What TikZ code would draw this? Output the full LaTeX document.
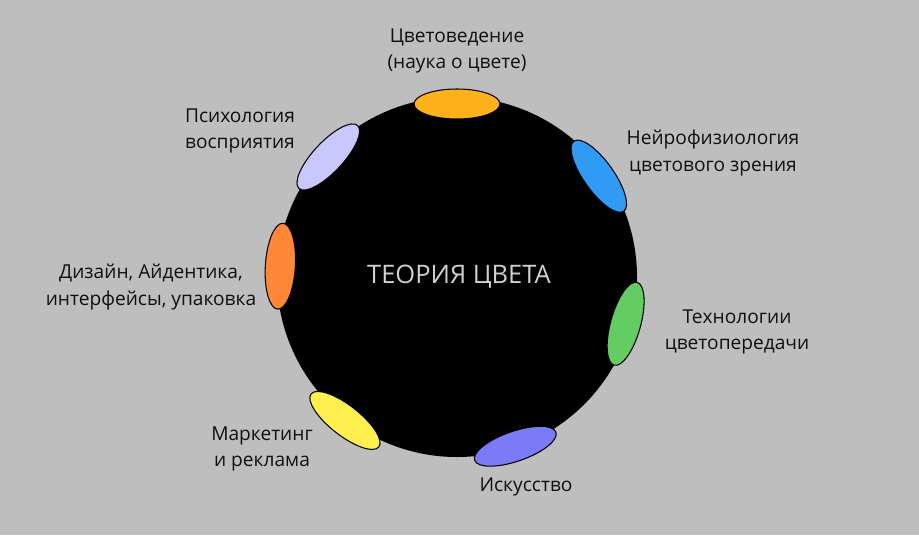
\documentclass[tikz,border=0pt]{standalone}
\usepackage{fontspec}
\setmainfont{Open Sans}
\usepackage{tikz}
\definecolor{paper}{HTML}{BEBEBE}
\definecolor{ink}{HTML}{101010}
\definecolor{haze}{HTML}{D0D0D0}
\definecolor{amber}{HTML}{FDB21B}
\definecolor{sky}{HTML}{2F9BF5}
\definecolor{leaf}{HTML}{63CC63}
\definecolor{violet}{HTML}{7B7BF7}
\definecolor{lemon}{HTML}{FFF050}
\definecolor{tangerine}{HTML}{FF8838}
\definecolor{lavender}{HTML}{C8C8FF}

\begin{document}
\begin{tikzpicture}[x=.02cm,y=-.02cm,lbl/.style={font=\fontsize{10.9}{15.3}\selectfont,align=center,text=ink},blob/.style={draw=black,line width=.6pt}]
\fill[paper] (0,0) rectangle (919,535);\fill[black] (457,277) circle (180);
\node[font=\fontsize{14.5}{16}\selectfont,text=haze] (core) at (459,277) {ТЕОРИЯ ЦВЕТА};
\begin{scope}[shift={(457,277)}]
\foreach \a/\r/\c in {90/173/amber,35.4/174/sky,-15.5/175/leaf,-71/179/violet,-128/182/lemon,176.5/177/tangerine,137/176/lavender}
  \filldraw[blob,fill=\c,rotate=\a] (\r,0) ellipse (15 and 43);
\end{scope}
\node[lbl] (science) at (457,51) {Цветоведение\\(наука о цвете)};
\node[lbl] (neuro) at (713,153) {Нейрофизиология\\цветового зрения};
\node[lbl] (tech) at (737,332) {Технологии\\цветопередачи};
\node[lbl] (art) at (526,487) {Искусство};
\node[lbl] (market) at (262,449) {Маркетинг\\и реклама};
\node[lbl] (design) at (151,287) {Дизайн, Айдентика,\\интерфейсы, упаковка};
\node[lbl] (psych) at (240,131) {Психология\\восприятия};
\end{tikzpicture}
\end{document}
